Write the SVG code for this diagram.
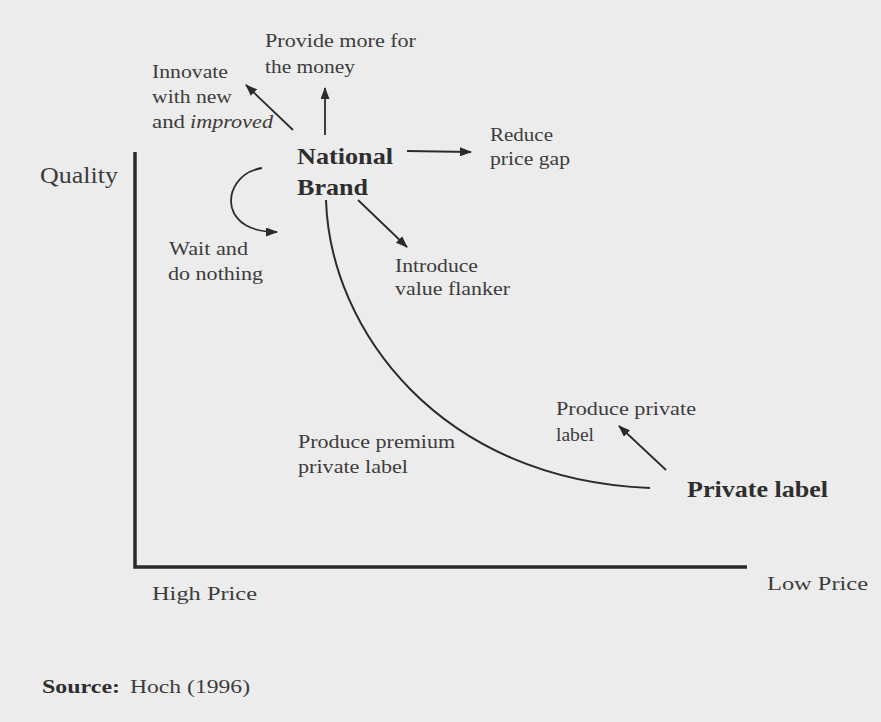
<svg xmlns="http://www.w3.org/2000/svg" width="881" height="722" viewBox="0 0 881 722">
<defs>
<marker id="ah" markerUnits="userSpaceOnUse" markerWidth="12" markerHeight="9" refX="11" refY="4.5" orient="auto">
<path d="M0,0 L12,4.5 L0,9 z" fill="#2b2b2b"/>
</marker>
</defs>
<style>
.t{font-family:"Liberation Serif","Times New Roman",serif;font-size:19px;fill:#3c3c3c}
.b{font-family:"Liberation Serif","Times New Roman",serif;font-weight:bold;font-size:23px;fill:#2e2e2e}
.ax{stroke:#2a2a2a;stroke-width:3.5;fill:none}
.ar{stroke:#2b2b2b;stroke-width:1.8;fill:none;marker-end:url(#ah)}
.cv{stroke:#2b2b2b;stroke-width:2;fill:none}
</style>
<rect width="881" height="722" fill="#ececec"/>
<g id="axes">
<path class="ax" d="M135,152 L135,567 L747,567"/>
<text class="t" x="40" y="183" style="font-size:23px" textLength="78" lengthAdjust="spacingAndGlyphs">Quality</text>
<text class="t" x="152" y="600" textLength="105" lengthAdjust="spacingAndGlyphs">High Price</text>
<text class="t" x="767" y="590" textLength="101" lengthAdjust="spacingAndGlyphs">Low Price</text>
</g>
<g id="national-brand">
<text class="b" x="297" y="164" textLength="96" lengthAdjust="spacingAndGlyphs">National</text>
<text class="b" x="297" y="195" textLength="71" lengthAdjust="spacingAndGlyphs">Brand</text>
</g>
<g id="private-label">
<text class="b" x="687" y="497" textLength="141" lengthAdjust="spacingAndGlyphs">Private label</text>
</g>
<g id="innovate">
<text class="t" x="152" y="78" textLength="76" lengthAdjust="spacingAndGlyphs">Innovate</text>
<text class="t" x="152" y="103" textLength="80" lengthAdjust="spacingAndGlyphs">with new</text>
<text class="t" x="152" y="128" textLength="33" lengthAdjust="spacingAndGlyphs">and</text>
<text class="t" x="190" y="128" style="font-style:italic" textLength="83" lengthAdjust="spacingAndGlyphs">improved</text>
</g>
<g id="provide-more">
<text class="t" x="265" y="47" textLength="151" lengthAdjust="spacingAndGlyphs">Provide more for</text>
<text class="t" x="265" y="73" textLength="90" lengthAdjust="spacingAndGlyphs">the money</text>
</g>
<g id="reduce-gap">
<text class="t" x="490" y="141" textLength="63" lengthAdjust="spacingAndGlyphs">Reduce</text>
<text class="t" x="490" y="165" textLength="80" lengthAdjust="spacingAndGlyphs">price gap</text>
</g>
<g id="wait">
<text class="t" x="169" y="255" textLength="79" lengthAdjust="spacingAndGlyphs">Wait and</text>
<text class="t" x="168" y="280" textLength="95" lengthAdjust="spacingAndGlyphs">do nothing</text>
</g>
<g id="flanker">
<text class="t" x="395" y="272" textLength="83" lengthAdjust="spacingAndGlyphs">Introduce</text>
<text class="t" x="395" y="295" textLength="115" lengthAdjust="spacingAndGlyphs">value flanker</text>
</g>
<g id="premium">
<text class="t" x="298" y="448" textLength="157" lengthAdjust="spacingAndGlyphs">Produce premium</text>
<text class="t" x="298" y="473" textLength="110" lengthAdjust="spacingAndGlyphs">private label</text>
</g>
<g id="produce-private">
<text class="t" x="556" y="415" textLength="140" lengthAdjust="spacingAndGlyphs">Produce private</text>
<text class="t" x="556" y="441" textLength="38" lengthAdjust="spacingAndGlyphs">label</text>
</g>
<g id="connectors">
<path class="cv" d="M326,200 C330,330 440,480 650,488"/>
<path class="ar" d="M293,130 L246,85"/>
<path class="ar" d="M325,135 L325,88"/>
<path class="ar" d="M407,151 L471,152"/>
<path class="ar" d="M358,200 L407,247"/>
<path class="ar" d="M262,168 C238,172 228,192 232,208 C236,222 250,232 277,232"/>
<path class="ar" d="M666,470 L619,426"/>
</g>
<g id="source">
<text class="b" x="42" y="693" style="font-size:19px" textLength="78" lengthAdjust="spacingAndGlyphs">Source:</text>
<text class="t" x="130" y="693" textLength="120" lengthAdjust="spacingAndGlyphs">Hoch (1996)</text>
</g>
</svg>
